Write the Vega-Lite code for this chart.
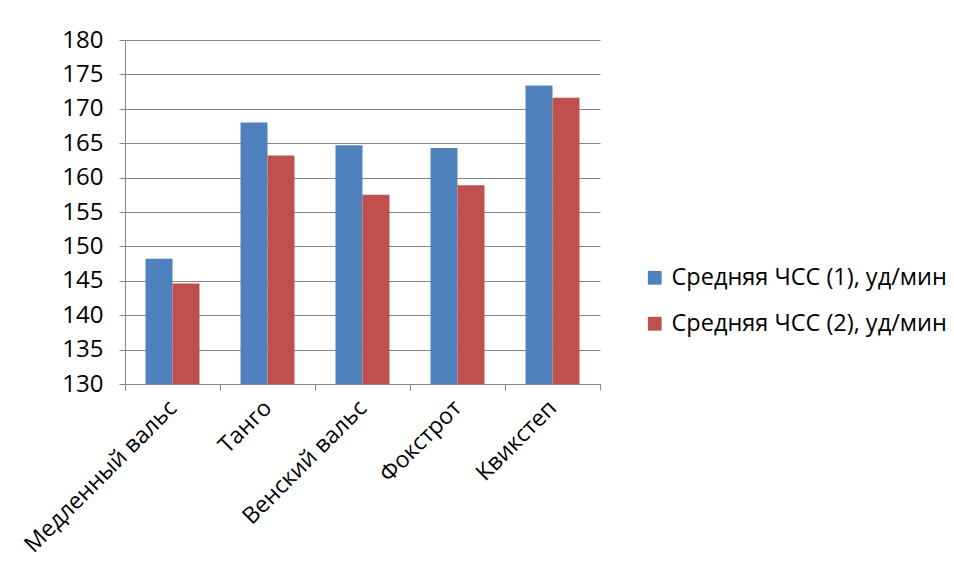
{
  "$schema": "https://vega.github.io/schema/vega-lite/v6.json",
  "width": 475,
  "height": 344,
  "autosize": {"type": "none"},
  "padding": {"left": 125, "top": 40, "right": 354, "bottom": 198},
  "background": "white",
  "data": {
    "values": [
      {"dance": "Медленный вальс", "series": "Средняя ЧСС (1), уд/мин", "hr": 148.2},
      {"dance": "Медленный вальс", "series": "Средняя ЧСС (2), уд/мин", "hr": 144.6},
      {"dance": "Танго", "series": "Средняя ЧСС (1), уд/мин", "hr": 168.0},
      {"dance": "Танго", "series": "Средняя ЧСС (2), уд/мин", "hr": 163.2},
      {"dance": "Венский вальс", "series": "Средняя ЧСС (1), уд/мин", "hr": 164.7},
      {"dance": "Венский вальс", "series": "Средняя ЧСС (2), уд/мин", "hr": 157.5},
      {"dance": "Фокстрот", "series": "Средняя ЧСС (1), уд/мин", "hr": 164.3},
      {"dance": "Фокстрот", "series": "Средняя ЧСС (2), уд/мин", "hr": 158.9},
      {"dance": "Квикстеп", "series": "Средняя ЧСС (1), уд/мин", "hr": 173.4},
      {"dance": "Квикстеп", "series": "Средняя ЧСС (2), уд/мин", "hr": 171.6}
    ]
  },
  "mark": {"type": "bar", "clip": true},
  "encoding": {
    "x": {
      "field": "dance",
      "type": "nominal",
      "sort": null,
      "scale": {"paddingInner": 0, "paddingOuter": 0},
      "axis": {
        "title": null,
        "tickBand": "extent",
        "labelAngle": -45,
        "labelAlign": "right",
        "labelBaseline": "middle",
        "labelFontSize": 23,
        "labelColor": "#000000",
        "labelPadding": 14,
        "labelLimit": 400,
        "tickSize": 6,
        "tickColor": "#868686",
        "domainColor": "#868686",
        "grid": false
      }
    },
    "xOffset": {
      "field": "series",
      "type": "nominal",
      "scale": {"paddingInner": 0, "paddingOuter": 0.76}
    },
    "y": {
      "field": "hr",
      "type": "quantitative",
      "scale": {"domain": [130, 180], "zero": false, "nice": false},
      "axis": {
        "title": null,
        "values": [130, 135, 140, 145, 150, 155, 160, 165, 170, 175, 180],
        "labelFontSize": 24,
        "labelColor": "#000000",
        "labelPadding": 16,
        "tickSize": 6,
        "tickColor": "#868686",
        "domainColor": "#868686",
        "gridColor": "#868686",
        "grid": true
      }
    },
    "color": {
      "field": "series",
      "type": "nominal",
      "scale": {"range": ["#4F81BD", "#C0504D"]},
      "legend": {
        "title": null,
        "orient": "none",
        "legendX": 518,
        "legendY": 226,
        "symbolType": "square",
        "symbolSize": 190,
        "symbolStrokeWidth": 0,
        "labelFontSize": 23.5,
        "labelColor": "#000000",
        "labelLimit": 400,
        "rowPadding": 21,
        "labelOffset": 5
      }
    }
  },
  "config": {
    "font": "Open Sans",
    "view": {"stroke": null},
    "axis": {"labelFont": "Open Sans"},
    "legend": {"labelFont": "Open Sans"}
  }
}
